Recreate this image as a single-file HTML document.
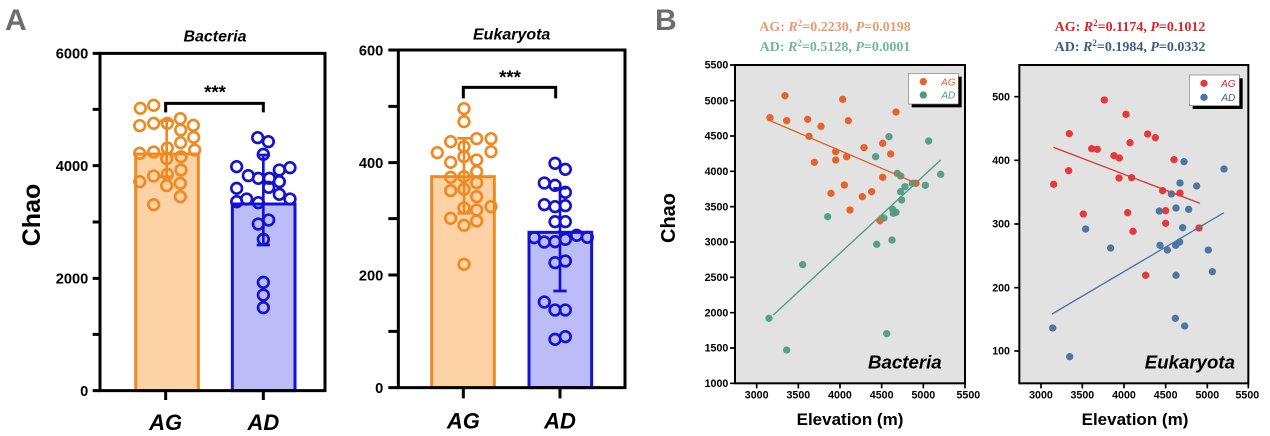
<!DOCTYPE html>
<html><head><meta charset="utf-8"><style>
html,body{margin:0;padding:0;background:#fff}
svg{display:block}
text{font-family:"Liberation Sans",Arial,sans-serif}
.s{font-family:"Liberation Serif",serif;font-weight:bold}
</style></head><body>
<svg width="1270" height="436" viewBox="0 0 1270 436" xmlns="http://www.w3.org/2000/svg">
<text x="5" y="30" font-size="30" font-weight="bold" fill="#6d6d6d">A</text>
<text x="655" y="30" font-size="30" font-weight="bold" fill="#6d6d6d">B</text>
<text transform="translate(40,215) rotate(-90)" font-size="25" font-weight="bold" text-anchor="middle">Chao</text>

<!-- Bacteria A -->
<g transform="scale(0.33333)">
<text x="645" y="125" font-size="48" font-weight="bold" font-style="italic" text-anchor="middle">Bacteria</text>
<rect x="407" y="462" width="188" height="710" fill="#fdd3a6" stroke="#ef8a22" stroke-width="9"/>
<rect x="697" y="612" width="188" height="560" fill="#bcbdf8" stroke="#1212d0" stroke-width="9"/>
<g stroke="#000" stroke-width="9" fill="none">
<path d="M300 160H975V1172H300Z"/>
<path d="M278 160H300M278 328H300M278 497H300M278 666H300M278 835H300M278 1003H300M278 1172H300M497 1172V1200M790 1172V1200M497 337V310H790V337"/>
</g>
<g font-size="44" font-weight="bold" text-anchor="end"><text x="265" y="176">6000</text><text x="265" y="513">4000</text><text x="265" y="851">2000</text><text x="265" y="1188">0</text></g>
<text x="645" y="295" font-size="56" font-weight="bold" text-anchor="middle">***</text>
<g font-size="66" font-weight="bold" font-style="italic" text-anchor="middle"><text x="497" y="1290">AG</text><text x="790" y="1290">AD</text></g>
<path d="M500 362V530M480 362H520M480 530H520" stroke="#ef8a22" stroke-width="8"/>
<g fill="none" stroke="#ef8a22" stroke-width="8">
<circle cx="421" cy="325" r="16"/><circle cx="461" cy="316" r="16"/><circle cx="419" cy="377" r="16"/><circle cx="461" cy="370" r="16"/><circle cx="502" cy="370" r="16"/><circle cx="541" cy="356" r="16"/><circle cx="580" cy="376" r="16"/><circle cx="581" cy="412" r="16"/><circle cx="542" cy="390" r="16"/><circle cx="542" cy="428" r="16"/><circle cx="502" cy="444" r="16"/><circle cx="419" cy="460" r="16"/><circle cx="461" cy="456" r="16"/><circle cx="500" cy="476" r="16"/><circle cx="543" cy="470" r="16"/><circle cx="584" cy="450" r="16"/><circle cx="543" cy="510" r="16"/><circle cx="502" cy="523" r="16"/><circle cx="461" cy="528" r="16"/><circle cx="419" cy="545" r="16"/><circle cx="500" cy="557" r="16"/><circle cx="541" cy="550" r="16"/><circle cx="541" cy="590" r="16"/><circle cx="461" cy="614" r="16"/>
</g>
<path d="M790 465V735M770 465H810M770 735H810" stroke="#1212d0" stroke-width="8"/>
<g fill="none" stroke="#1212d0" stroke-width="8">
<circle cx="773" cy="413" r="16"/><circle cx="805" cy="425" r="16"/><circle cx="790" cy="463" r="16"/><circle cx="710" cy="500" r="16"/><circle cx="745" cy="527" r="16"/><circle cx="775" cy="535" r="16"/><circle cx="808" cy="535" r="16"/><circle cx="838" cy="510" r="16"/><circle cx="870" cy="503" r="16"/><circle cx="710" cy="565" r="16"/><circle cx="740" cy="597" r="16"/><circle cx="775" cy="608" r="16"/><circle cx="806" cy="562" r="16"/><circle cx="838" cy="545" r="16"/><circle cx="838" cy="583" r="16"/><circle cx="870" cy="597" r="16"/><circle cx="710" cy="605" r="16"/><circle cx="775" cy="672" r="16"/><circle cx="806" cy="660" r="16"/><circle cx="790" cy="718" r="16"/><circle cx="790" cy="847" r="16"/><circle cx="790" cy="885" r="16"/><circle cx="790" cy="923" r="16"/>
</g>
</g>

<!-- Eukaryota A -->
<g transform="translate(330,0) scale(0.33333)">
<text x="545" y="118" font-size="48" font-weight="bold" font-style="italic" text-anchor="middle">Eukaryota</text>
<rect x="305" y="530" width="188" height="633" fill="#fdd3a6" stroke="#ef8a22" stroke-width="9"/>
<rect x="597" y="697" width="188" height="466" fill="#bcbdf8" stroke="#1212d0" stroke-width="9"/>
<g stroke="#000" stroke-width="9" fill="none">
<path d="M205 150H885V1163H205Z"/>
<path d="M175 150H205M175 319H205M175 488H205M175 656H205M175 825H205M175 994H205M175 1163H205M400 1163V1195M690 1163V1195M400 295V262H677V295"/>
</g>
<g font-size="44" font-weight="bold" text-anchor="end"><text x="160" y="166">600</text><text x="160" y="504">400</text><text x="160" y="841">200</text><text x="160" y="1179">0</text></g>
<text x="540" y="250" font-size="56" font-weight="bold" text-anchor="middle">***</text>
<g font-size="66" font-weight="bold" font-style="italic" text-anchor="middle"><text x="400" y="1285">AG</text><text x="690" y="1285">AD</text></g>
<path d="M402 415V640M382 415H422M382 640H422" stroke="#ef8a22" stroke-width="8"/>
<g fill="none" stroke="#ef8a22" stroke-width="8">
<circle cx="402" cy="326" r="16"/><circle cx="402" cy="365" r="16"/><circle cx="362" cy="425" r="16"/><circle cx="440" cy="416" r="16"/><circle cx="483" cy="416" r="16"/><circle cx="322" cy="458" r="16"/><circle cx="402" cy="440" r="16"/><circle cx="483" cy="455" r="16"/><circle cx="362" cy="487" r="16"/><circle cx="402" cy="470" r="16"/><circle cx="440" cy="480" r="16"/><circle cx="362" cy="532" r="16"/><circle cx="402" cy="530" r="16"/><circle cx="440" cy="515" r="16"/><circle cx="440" cy="548" r="16"/><circle cx="362" cy="572" r="16"/><circle cx="402" cy="568" r="16"/><circle cx="440" cy="590" r="16"/><circle cx="402" cy="624" r="16"/><circle cx="440" cy="630" r="16"/><circle cx="483" cy="620" r="16"/><circle cx="362" cy="655" r="16"/><circle cx="402" cy="676" r="16"/><circle cx="440" cy="663" r="16"/><circle cx="402" cy="793" r="16"/>
</g>
<path d="M690 565V873M670 565H710M670 873H710" stroke="#1212d0" stroke-width="8"/>
<g fill="none" stroke="#1212d0" stroke-width="8">
<circle cx="675" cy="490" r="16"/><circle cx="706" cy="508" r="16"/><circle cx="643" cy="549" r="16"/><circle cx="675" cy="556" r="16"/><circle cx="706" cy="577" r="16"/><circle cx="643" cy="614" r="16"/><circle cx="675" cy="620" r="16"/><circle cx="706" cy="617" r="16"/><circle cx="675" cy="665" r="16"/><circle cx="706" cy="665" r="16"/><circle cx="613" cy="713" r="16"/><circle cx="643" cy="726" r="16"/><circle cx="675" cy="725" r="16"/><circle cx="706" cy="718" r="16"/><circle cx="740" cy="706" r="16"/><circle cx="772" cy="712" r="16"/><circle cx="675" cy="788" r="16"/><circle cx="706" cy="783" r="16"/><circle cx="643" cy="906" r="16"/><circle cx="675" cy="930" r="16"/><circle cx="706" cy="930" r="16"/><circle cx="675" cy="1018" r="16"/><circle cx="706" cy="1010" r="16"/>
</g>
</g>

<!-- Panel B titles -->
<g font-size="14" text-anchor="middle">
<text class="s" x="835" y="31" fill="#e89a70">AG: <tspan font-style="italic">R</tspan><tspan font-size="9" dy="-5">2</tspan><tspan dy="5">=0.2230, </tspan><tspan font-style="italic">P</tspan>=0.0198</text>
<text class="s" x="835" y="51" fill="#6fb89c">AD: <tspan font-style="italic">R</tspan><tspan font-size="9" dy="-5">2</tspan><tspan dy="5">=0.5128, </tspan><tspan font-style="italic">P</tspan>=0.0001</text>
<text class="s" x="1130" y="31" fill="#d8252a">AG: <tspan font-style="italic">R</tspan><tspan font-size="9" dy="-5">2</tspan><tspan dy="5">=0.1174, </tspan><tspan font-style="italic">P</tspan>=0.1012</text>
<text class="s" x="1130" y="51" fill="#3b5f8a">AD: <tspan font-style="italic">R</tspan><tspan font-size="9" dy="-5">2</tspan><tspan dy="5">=0.1984, </tspan><tspan font-style="italic">P</tspan>=0.0332</text>
</g>
<text transform="translate(675,218) rotate(-90)" font-size="20" font-weight="bold" text-anchor="middle">Chao</text>
<text x="850" y="425" font-size="17" font-weight="bold" text-anchor="middle">Elevation (m)</text>
<text x="1135" y="425" font-size="17" font-weight="bold" text-anchor="middle">Elevation (m)</text>

<!-- Bacteria B -->
<g transform="translate(690,50) scale(0.33333)">
<rect x="135" y="45" width="690" height="955" fill="#e2e2e2" stroke="#000" stroke-width="6"/>
<g stroke="#000" stroke-width="5"><path d="M120 45H135M120 152H135M120 258H135M120 364H135M120 470H135M120 576H135M120 682H135M120 788H135M120 894H135M120 1000H135M200 1000V1015M325 1000V1015M450 1000V1015M575 1000V1015M700 1000V1015M825 1000V1015"/></g>
<g font-size="32" font-weight="bold" text-anchor="end"><text x="115" y="56">5500</text><text x="115" y="163">5000</text><text x="115" y="269">4500</text><text x="115" y="375">4000</text><text x="115" y="481">3500</text><text x="115" y="587">3000</text><text x="115" y="693">2500</text><text x="115" y="799">2000</text><text x="115" y="905">1500</text><text x="115" y="1011">1000</text></g>
<g font-size="32" font-weight="bold" text-anchor="middle"><text x="200" y="1045">3000</text><text x="325" y="1045">3500</text><text x="450" y="1045">4000</text><text x="575" y="1045">4500</text><text x="700" y="1045">5000</text><text x="835" y="1045">5500</text></g>
<g fill="#e8622e"><circle cx="240" cy="203" r="11"/><circle cx="285" cy="137" r="11"/><circle cx="290" cy="212" r="11"/><circle cx="353" cy="208" r="11"/><circle cx="357" cy="259" r="11"/><circle cx="393" cy="229" r="11"/><circle cx="373" cy="337" r="11"/><circle cx="437" cy="305" r="11"/><circle cx="437" cy="330" r="11"/><circle cx="458" cy="148" r="11"/><circle cx="475" cy="212" r="11"/><circle cx="470" cy="320" r="11"/><circle cx="423" cy="430" r="11"/><circle cx="463" cy="405" r="11"/><circle cx="522" cy="293" r="11"/><circle cx="517" cy="440" r="11"/><circle cx="545" cy="425" r="11"/><circle cx="480" cy="480" r="11"/><circle cx="578" cy="280" r="11"/><circle cx="578" cy="382" r="11"/><circle cx="602" cy="312" r="11"/><circle cx="618" cy="186" r="11"/><circle cx="570" cy="512" r="11"/><circle cx="678" cy="400" r="11"/></g>
<g fill="#4f9c80" fill-opacity="0.95"><circle cx="237" cy="805" r="11"/><circle cx="290" cy="900" r="11"/><circle cx="338" cy="644" r="11"/><circle cx="413" cy="500" r="11"/><circle cx="560" cy="583" r="11"/><circle cx="590" cy="851" r="11"/><circle cx="606" cy="570" r="11"/><circle cx="557" cy="320" r="11"/><circle cx="597" cy="260" r="11"/><circle cx="582" cy="504" r="11"/><circle cx="608" cy="478" r="11"/><circle cx="610" cy="490" r="11"/><circle cx="618" cy="487" r="11"/><circle cx="622" cy="370" r="11"/><circle cx="632" cy="378" r="11"/><circle cx="632" cy="425" r="11"/><circle cx="635" cy="450" r="11"/><circle cx="645" cy="410" r="11"/><circle cx="667" cy="400" r="11"/><circle cx="706" cy="406" r="11"/><circle cx="716" cy="273" r="11"/><circle cx="752" cy="373" r="11"/></g>
<path d="M240 212L680 400" stroke="#d9622e" stroke-width="4"/>
<path d="M250 795L752 330" stroke="#4f9c80" stroke-width="4"/>
<rect x="665" y="80" width="150" height="92" fill="#000"/>
<rect x="655" y="70" width="150" height="92" fill="#fff" stroke="#777" stroke-width="2"/>
<circle cx="700" cy="95" r="11" fill="#e8622e"/><circle cx="700" cy="135" r="11" fill="#4f9c80"/>
<text x="775" y="106" font-size="30" font-style="italic" text-anchor="middle" fill="#e8622e">AG</text>
<text x="775" y="146" font-size="30" font-style="italic" text-anchor="middle" fill="#4f9c80">AD</text>
<text x="755" y="955" font-size="56" font-weight="bold" font-style="italic" text-anchor="end">Bacteria</text>
</g>

<!-- Eukaryota B -->
<g transform="translate(960,50) scale(0.33333)">
<rect x="178" y="45" width="687" height="955" fill="#e2e2e2" stroke="#000" stroke-width="6"/>
<g stroke="#000" stroke-width="5"><path d="M163 140H178M163 331H178M163 522H178M163 713H178M163 903H178M243 1000V1015M367 1000V1015M492 1000V1015M617 1000V1015M742 1000V1015M865 1000V1015"/></g>
<g font-size="32" font-weight="bold" text-anchor="end"><text x="150" y="151">500</text><text x="150" y="342">400</text><text x="150" y="533">300</text><text x="150" y="724">200</text><text x="150" y="914">100</text></g>
<g font-size="32" font-weight="bold" text-anchor="middle"><text x="243" y="1045">3000</text><text x="367" y="1045">3500</text><text x="492" y="1045">4000</text><text x="617" y="1045">4500</text><text x="742" y="1045">5000</text><text x="862" y="1045">5500</text></g>
<g fill="#e8383a"><circle cx="281" cy="403" r="11"/><circle cx="328" cy="251" r="11"/><circle cx="326" cy="362" r="11"/><circle cx="395" cy="296" r="11"/><circle cx="412" cy="298" r="11"/><circle cx="370" cy="492" r="11"/><circle cx="433" cy="150" r="11"/><circle cx="462" cy="317" r="11"/><circle cx="478" cy="324" r="11"/><circle cx="477" cy="384" r="11"/><circle cx="498" cy="193" r="11"/><circle cx="510" cy="278" r="11"/><circle cx="515" cy="383" r="11"/><circle cx="503" cy="488" r="11"/><circle cx="519" cy="544" r="11"/><circle cx="563" cy="252" r="11"/><circle cx="586" cy="263" r="11"/><circle cx="557" cy="676" r="11"/><circle cx="608" cy="422" r="11"/><circle cx="617" cy="520" r="11"/><circle cx="617" cy="482" r="11"/><circle cx="642" cy="329" r="11"/><circle cx="660" cy="429" r="11"/><circle cx="717" cy="534" r="11"/></g>
<g fill="#4d76a2"><circle cx="278" cy="834" r="11"/><circle cx="329" cy="920" r="11"/><circle cx="377" cy="537" r="11"/><circle cx="452" cy="594" r="11"/><circle cx="598" cy="483" r="11"/><circle cx="600" cy="586" r="11"/><circle cx="622" cy="600" r="11"/><circle cx="634" cy="432" r="11"/><circle cx="648" cy="474" r="11"/><circle cx="647" cy="586" r="11"/><circle cx="659" cy="576" r="11"/><circle cx="648" cy="676" r="11"/><circle cx="646" cy="805" r="11"/><circle cx="674" cy="828" r="11"/><circle cx="672" cy="335" r="11"/><circle cx="660" cy="399" r="11"/><circle cx="686" cy="478" r="11"/><circle cx="668" cy="533" r="11"/><circle cx="710" cy="408" r="11"/><circle cx="745" cy="600" r="11"/><circle cx="757" cy="665" r="11"/><circle cx="792" cy="357" r="11"/></g>
<path d="M281 292L720 460" stroke="#d8363a" stroke-width="4"/>
<path d="M276 792L792 488" stroke="#4d76a2" stroke-width="4"/>
<rect x="698" y="85" width="150" height="92" fill="#000"/>
<rect x="688" y="75" width="150" height="92" fill="#fff" stroke="#777" stroke-width="2"/>
<circle cx="732" cy="100" r="11" fill="#e8383a"/><circle cx="732" cy="142" r="11" fill="#4d76a2"/>
<text x="805" y="111" font-size="30" font-style="italic" text-anchor="middle" fill="#d8252a">AG</text>
<text x="805" y="153" font-size="30" font-style="italic" text-anchor="middle" fill="#3b5f8a">AD</text>
<text x="825" y="955" font-size="56" font-weight="bold" font-style="italic" text-anchor="end">Eukaryota</text>
</g>
</svg>
</body></html>
